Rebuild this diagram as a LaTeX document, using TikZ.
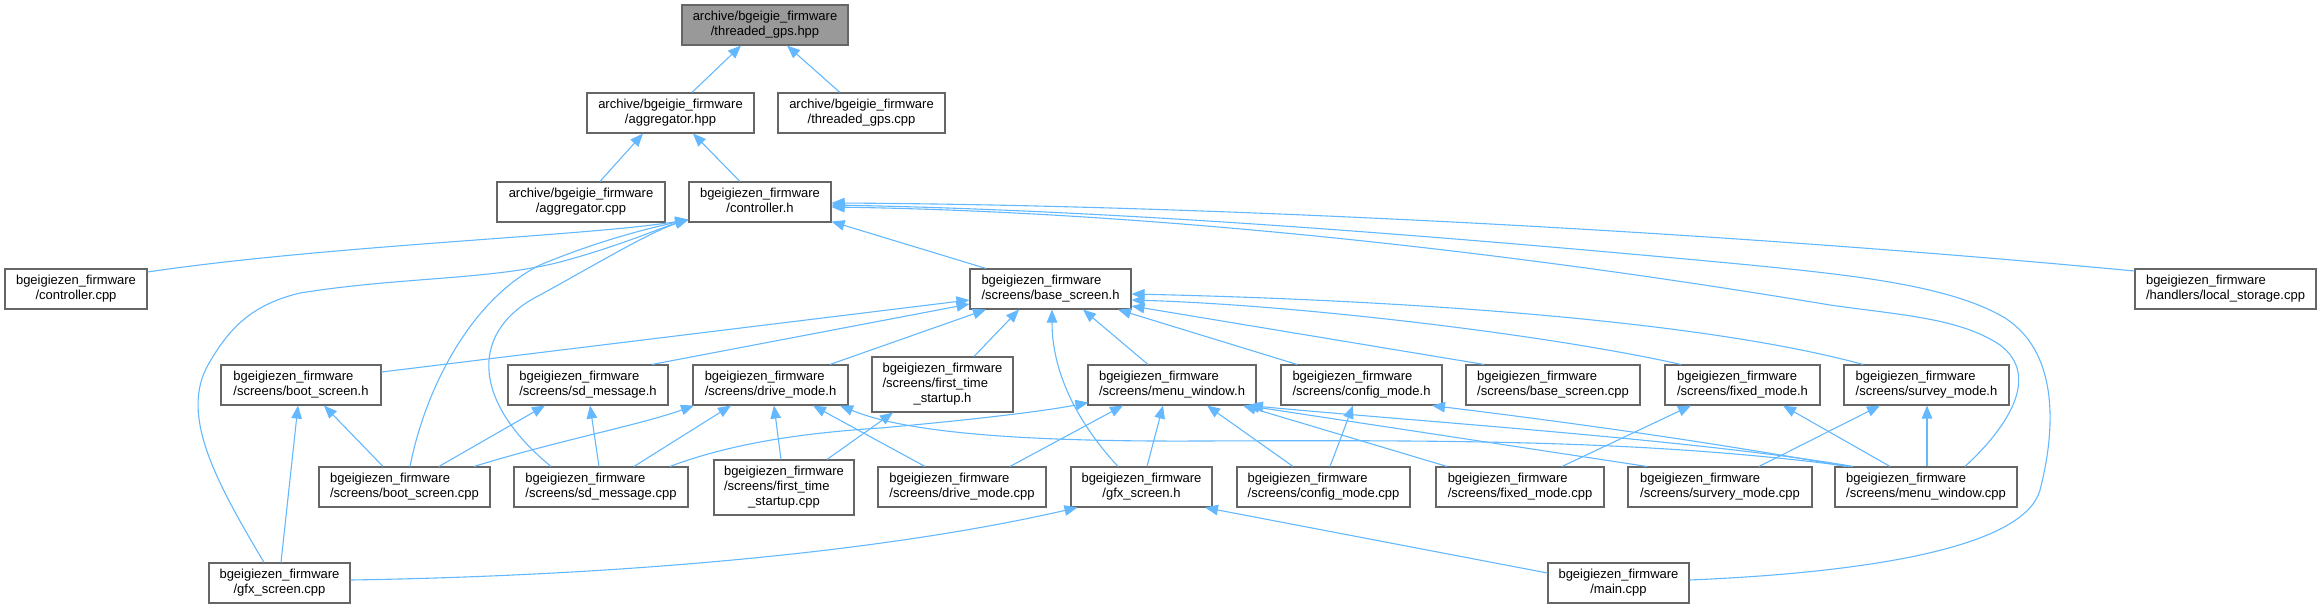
\documentclass[tikz,border=0pt]{standalone}
\usepackage{fontspec}
\usetikzlibrary{arrows.meta,calc}
\newfontfamily\nodefnt{Liberation Sans}
\definecolor{edgeblue}{HTML}{63B8FF}
\definecolor{boxborder}{HTML}{666666}
\definecolor{topfill}{HTML}{999999}
\newcommand{\twol}[2]{\begin{tabular}{@{}l@{}}#1\\\multicolumn{1}{@{}c@{}}{#2}\end{tabular}}
\newcommand{\threel}[3]{\begin{tabular}{@{}l@{}}#1\\#2\\\multicolumn{1}{@{}c@{}}{#3}\end{tabular}}
\newcommand{\bz}{bgeigiezen\_firmware}
\newcommand{\ab}{archive/bgeigie\_firmware}
\tikzset{
  box/.style={draw=boxborder, line width=1.1pt, fill=white, inner sep=0pt, minimum height=40pt,
    font=\nodefnt\fontsize{13}{15}\selectfont},
  topbox/.style={box, fill=topfill},
  edge/.style={draw=edgeblue, line width=1.1pt, -{Triangle[length=13pt,width=10.5pt]}},
}
\begin{document}
\begin{tikzpicture}[x=1pt,y=-1pt]
\useasboundingbox (0,0) rectangle (2321,608);
% row 0
\node[topbox, minimum width=166pt] (tgh) at (765,25) {\twol{\ab}{/threaded\_gps.hpp}};
% row 1
\node[box, minimum width=167pt] (agh) at (670.5,113) {\twol{\ab}{/aggregator.hpp}};
\node[box, minimum width=167pt] (tgc) at (861.5,113) {\twol{\ab}{/threaded\_gps.cpp}};
% row 2
\node[box, minimum width=168pt] (agc) at (581,202) {\twol{\ab}{/aggregator.cpp}};
\node[box, minimum width=142pt] (ctl) at (760,202) {\twol{\bz}{/controller.h}};
% row 3
\node[box, minimum width=142pt] (ctc) at (76,289) {\twol{\bz}{/controller.cpp}};
\node[box, minimum width=161pt] (bsh) at (1050.5,289) {\twol{\bz}{/screens/base\_screen.h}};
\node[box, minimum width=181pt] (lsc) at (2225.5,289) {\twol{\bz}{/handlers/local\_storage.cpp}};
% row 4
\node[box, minimum width=160pt] (bth) at (301,385) {\twol{\bz}{/screens/boot\_screen.h}};
\node[box, minimum width=160pt] (sdh) at (588,385) {\twol{\bz}{/screens/sd\_message.h}};
\node[box, minimum width=155pt] (dmh) at (770.5,385) {\twol{\bz}{/screens/drive\_mode.h}};
\node[box, minimum width=141pt, minimum height=55pt] (fth) at (942.5,384.5) {\threel{\bz}{/screens/first\_time}{\_startup.h}};
\node[box, minimum width=168pt] (mwh) at (1172,385) {\twol{\bz}{/screens/menu\_window.h}};
\node[box, minimum width=161pt] (cmh) at (1361.5,385) {\twol{\bz}{/screens/config\_mode.h}};
\node[box, minimum width=174pt] (bsc) at (1553,385) {\twol{\bz}{/screens/base\_screen.cpp}};
\node[box, minimum width=155pt] (fmh) at (1742.5,385) {\twol{\bz}{/screens/fixed\_mode.h}};
\node[box, minimum width=165pt] (smh) at (1926.5,385) {\twol{\bz}{/screens/survey\_mode.h}};
% row 5
\node[box, minimum width=171pt] (btc) at (404.5,487) {\twol{\bz}{/screens/boot\_screen.cpp}};
\node[box, minimum width=174pt] (sdc) at (601,487) {\twol{\bz}{/screens/sd\_message.cpp}};
\node[box, minimum width=140pt, minimum height=55pt] (ftc) at (784,487.5) {\threel{\bz}{/screens/first\_time}{\_startup.cpp}};
\node[box, minimum width=168pt] (dmc) at (962,487) {\twol{\bz}{/screens/drive\_mode.cpp}};
\node[box, minimum width=141pt] (gfh) at (1141.5,487) {\twol{\bz}{/gfx\_screen.h}};
\node[box, minimum width=173pt] (cmc) at (1323.5,487) {\twol{\bz}{/screens/config\_mode.cpp}};
\node[box, minimum width=168pt] (fmc) at (1520,487) {\twol{\bz}{/screens/fixed\_mode.cpp}};
\node[box, minimum width=184pt] (svc) at (1720,487) {\twol{\bz}{/screens/survery\_mode.cpp}};
\node[box, minimum width=182pt] (mwc) at (1926,487) {\twol{\bz}{/screens/menu\_window.cpp}};
% row 6
\node[box, minimum width=141pt] (gfc) at (279.5,583) {\twol{\bz}{/gfx\_screen.cpp}};
\node[box, minimum width=141pt] (mnc) at (1618.5,583) {\twol{\bz}{/main.cpp}};

% edges
\draw[edge] ($(agh.north)+(21.5,0)$) -- ($(tgh.south)+(-24,0)$);
\draw[edge] ($(tgc.north)+(-21.5,0)$) -- ($(tgh.south)+(22,0)$);
\draw[edge] ($(agc.north)+(19,0)$) -- ($(agh.south)+(-27.5,0)$);
\draw[edge] ($(ctl.north)+(-20,0)$) -- ($(agh.south)+(22.5,0)$);
% into controller.h
\draw[edge] ($(ctc.east)+(0,-17)$) .. controls (330,245) and (590,236) .. ($(ctl.south west)+(0,-3)$);
\draw[edge] ($(gfc.north)+(-15.5,0)$) .. controls (215,480) and (180,415) .. (208,365)
  .. controls (228,330) and (250,305) .. (300,293) .. controls (400,277) and (490,280) .. (560,262)
  .. controls (620,246) and (660,228) .. ($(ctl.south west)+(0,-3)$);
\draw[edge] ($(btc.north)+(5.5,0)$) .. controls (425,390) and (470,300) .. (540,265)
  .. controls (600,240) and (650,228) .. ($(ctl.south west)+(0,-3)$);
\draw[edge] ($(sdc.north)+(-50,0)$) .. controls (470,400) and (470,330) .. (540,295)
  .. controls (600,262) and (650,232) .. ($(ctl.south west)+(0,-3)$);
\draw[edge] ($(bsh.north)+(-64.5,0)$) -- ($(ctl.south east)+(0,-1)$);
\draw[edge] ($(lsc.west)+(0,-18)$) .. controls (1700,230) and (1200,205) .. ($(ctl.east)+(0,1)$);
\draw[edge] ($(mnc.east)+(0,-3)$) .. controls (1880,572) and (2025,545) .. (2040,490)
  .. controls (2058,420) and (2055,350) .. (2005,318) .. controls (1950,285) and (1850,275) .. (1750,265)
  .. controls (1400,232) and (1100,210) .. ($(ctl.east)+(0,3)$);
\draw[edge] ($(mwc.north)+(39,0)$) .. controls (2010,425) and (2040,375) .. (2000,345)
  .. controls (1960,318) and (1900,315) .. (1830,305) .. controls (1500,250) and (1150,212) .. ($(ctl.east)+(0,5)$);
% into base_screen.h
\draw[edge] ($(bth.east)+(0,-13)$) -- ($(bsh.west)+(0,11)$);
\draw[edge] ($(sdh.north)+(64,0)$) -- ($(bsh.west)+(0,15)$);
\draw[edge] ($(dmh.north)+(59.5,0)$) -- ($(bsh.south)+(-64.5,0)$);
\draw[edge] ($(fth.north)+(31.5,0)$) -- ($(bsh.south)+(-31.5,0)$);
\draw[edge] ($(gfh.north)+(-23.5,0)$) .. controls (1075,420) and (1052,370) .. ($(bsh.south)+(1.5,0)$);
\draw[edge] ($(mwh.north)+(-24,0)$) -- ($(bsh.south)+(32.5,0)$);
\draw[edge] ($(cmh.north)+(-64.5,0)$) -- ($(bsh.south)+(67.5,0)$);
\draw[edge] ($(bsc.north)+(-69,0)$) -- ($(bsh.east)+(0,17)$);
\draw[edge] ($(fmh.north)+(-61.5,0)$) .. controls (1550,335) and (1300,305) .. ($(bsh.east)+(0,11)$);
\draw[edge] ($(smh.north)+(-63.5,0)$) .. controls (1700,320) and (1400,300) .. ($(bsh.east)+(0,5)$);
% into boot_screen.h / sd_message.h
\draw[edge] ($(btc.north)+(-21.5,0)$) -- ($(bth.south)+(23,0)$);
\draw[edge] ($(gfc.north)+(1.5,0)$) -- ($(bth.south)+(-3,0)$);
\draw[edge] ($(btc.north)+(34.5,0)$) -- ($(sdh.south)+(-43,0)$);
\draw[edge] ($(sdc.north)+(-2,0)$) -- ($(sdh.south)+(2,0)$);
% into drive_mode.h
\draw[edge] ($(btc.north)+(69.5,0)$) .. controls (560,440) and (640,425) .. ($(dmh.south)+(-76.5,0)$);
\draw[edge] ($(sdc.north)+(33,0)$) -- ($(dmh.south)+(-39.5,0)$);
\draw[edge] ($(ftc.north)+(-3,0)$) -- ($(dmh.south)+(3.5,0)$);
\draw[edge] ($(dmc.north)+(-37,0)$) -- ($(dmh.south)+(42.5,0)$);
\draw[edge] ($(mwc.north)+(-76,0)$) .. controls (1650,440) and (1450,440) .. (1200,441)
  .. controls (1000,442) and (900,430) .. ($(dmh.south)+(69.5,0)$);
% first_time_startup.h
\draw[edge] ($(ftc.north)+(43,0)$) -- ($(fth.south)+(-49.5,0)$);
% into menu_window.h
\draw[edge] ($(sdc.north)+(69,0)$) .. controls (740,440) and (820,432) .. (880,428)
  .. controls (960,421) and (1040,412) .. ($(mwh.south west)+(1,-3)$);
\draw[edge] ($(dmc.north)+(48,0)$) -- ($(mwh.south)+(-49,0)$);
\draw[edge] ($(gfh.north)+(5.5,0)$) -- ($(mwh.south)+(-9,0)$);
\draw[edge] ($(cmc.north)+(-30.5,0)$) -- ($(mwh.south)+(35,0)$);
\draw[edge] ($(fmc.north)+(-73,0)$) -- ($(mwh.south)+(71,0)$);
\draw[edge] ($(svc.north)+(-73,0)$) -- ($(mwh.south)+(74,0)$);
\draw[edge] ($(mwc.north)+(-73,0)$) .. controls (1700,440) and (1400,420) .. ($(mwh.south)+(78,0)$);
% into config_mode.h
\draw[edge] ($(cmc.north)+(6.5,0)$) -- ($(cmh.south)+(-8.5,0)$);
\draw[edge] ($(mwc.north)+(-80,0)$) .. controls (1700,440) and (1550,420) .. ($(cmh.south)+(70.5,0)$);
% into fixed_mode.h / survey_mode.h
\draw[edge] ($(fmc.north)+(42,0)$) -- ($(fmh.south)+(-51.5,0)$);
\draw[edge] ($(mwc.north)+(-36,0)$) -- ($(fmh.south)+(40.5,0)$);
\draw[edge] ($(svc.north)+(39,0)$) -- ($(smh.south)+(-46.5,0)$);
\draw[edge] ($(mwc.north)+(1,0)$) -- ($(smh.south)+(0.5,0)$);
% into gfx_screen.h
\draw[edge] ($(gfc.east)+(0,-3)$) .. controls (600,576) and (870,555) .. ($(gfh.south west)+(7,0)$);
\draw[edge] ($(mnc.west)+(0,-10)$) -- ($(gfh.south)+(63.5,0)$);
\end{tikzpicture}
\end{document}
